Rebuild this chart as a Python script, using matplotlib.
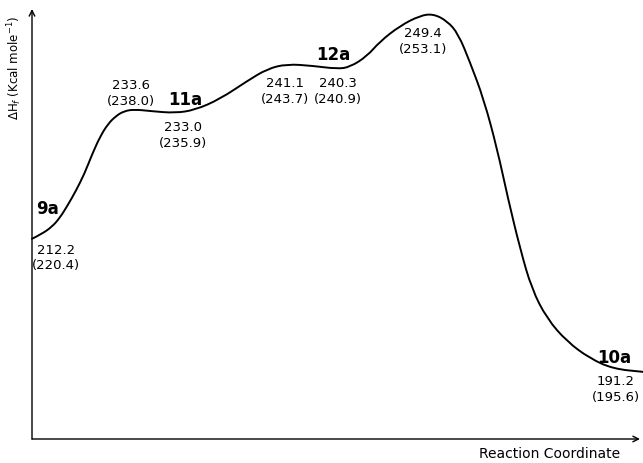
import matplotlib
matplotlib.use('Agg')
import matplotlib.pyplot as plt
from matplotlib.path import Path
from matplotlib.patches import PathPatch

# reaction profile (reaction coordinate, arbitrary units 0-100)
rc = [0.0, 1.6, 3.3, 4.6, 5.9, 7.2, 8.6, 9.9, 11.2, 12.5, 13.8, 15.1, 16.8,
      19.7, 23.5, 26.8, 30.9, 35.4, 38.7, 41.9, 46.2, 50.2, 52.3, 55.1, 57.2,
      60.5, 63.8, 66.0, 68.3, 70.1, 72.0, 74.3, 76.5, 78.3, 80.3, 82.2, 84.7,
      88.0, 91.8, 95.6, 100.5]
dhf = [212.2, 213.0, 214.2, 215.7, 217.8, 220.1, 222.9, 226.2, 229.1, 231.2,
       232.5, 233.3, 233.6, 233.3, 233.0, 233.5, 235.3, 238.3, 240.3, 241.1,
       240.8, 240.3, 240.6, 242.4, 244.8, 247.4, 249.1, 249.4, 248.2, 246.1,
       241.5, 235.3, 227.1, 218.8, 210.5, 203.9, 199.0, 195.2, 192.4, 190.7,
       190.2]

# species and energies (calc. value, value in parentheses)
species = ["9a", "11a", "12a", "10a"]
stationary = ["212.2", "233.6", "233.0", "241.1", "240.3", "249.4", "191.2"]
stationary_alt = ["(220.4)", "(238.0)", "(235.9)", "(243.7)", "(240.9)", "(253.1)", "(195.6)"]


def smooth_path(xs, ys):
    # quadratic bezier through midpoints, traced points act as control points
    pts = list(zip(xs, ys))
    verts = [pts[0]]
    codes = [Path.MOVETO]
    for i in range(1, len(pts) - 1):
        mid = ((pts[i][0] + pts[i + 1][0]) / 2, (pts[i][1] + pts[i + 1][1]) / 2)
        verts += [pts[i], mid]
        codes += [Path.CURVE3, Path.CURVE3]
    verts.append(pts[-1])
    codes.append(Path.LINETO)
    return Path(verts, codes)


fig = plt.figure(figsize=(6.43, 4.64), dpi=100)
ax = fig.add_axes([32 / 643, 24 / 464, 608 / 643, 430 / 464])
ax.set_xlim(0, 100)
ax.set_ylim(179.1, 250.2)
ax.axis('off')

ax.add_patch(PathPatch(smooth_path(rc, dhf), facecolor='none', edgecolor='black',
                       lw=1.4, clip_on=False, capstyle='round', joinstyle='round'))

# axes drawn as arrows
arr = dict(arrowstyle='->', color='black', lw=1.0, shrinkA=0, shrinkB=0)
ax.annotate('', xy=(0, 1), xytext=(0, 0), xycoords='axes fraction', arrowprops=arr)
ax.annotate('', xy=(1, 0), xytext=(0, 0), xycoords='axes fraction', arrowprops=arr)

ax.text(-2.8, 240.6, r'$\Delta$H$_f$ (Kcal mole$^{-1}$)', rotation=90,
        ha='center', va='center', fontsize=8.5, clip_on=False)
ax.text(85.2, 176.8, 'Reaction Coordinate', ha='center', va='center',
        fontsize=10, clip_on=False)

# species labels
sp_pos = [(2.5, 217.3), (25.2, 235.3), (49.5, 242.8), (95.7, 192.7)]
for name, (x, y) in zip(species, sp_pos):
    ax.text(x, y, name, ha='center', va='center', fontsize=12,
            fontweight='bold', clip_on=False)

# energy labels
val_pos = [(4.0, 210.5), (16.3, 237.7), (24.8, 230.7), (41.6, 238.0),
           (50.3, 238.0), (64.3, 246.3), (96.0, 188.7)]
for v, alt, (x, y) in zip(stationary, stationary_alt, val_pos):
    ax.text(x, y, v, ha='center', va='center', fontsize=9.5, clip_on=False)
    ax.text(x, y - 2.6, alt, ha='center', va='center', fontsize=9.5, clip_on=False)

plt.savefig('out.png', dpi=100)
plt.close()
